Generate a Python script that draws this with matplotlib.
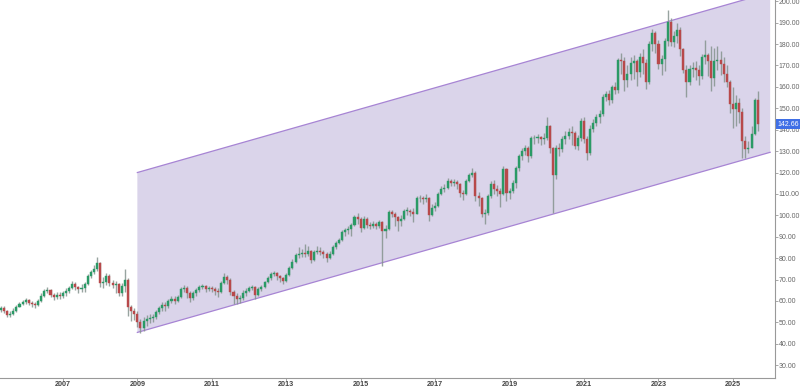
import matplotlib
matplotlib.use("Agg")
import matplotlib.pyplot as plt
from matplotlib.patches import Polygon, Rectangle
import numpy as np

plt.rcParams['font.family'] = ['Liberation Sans', 'DejaVu Sans']

# Monthly candles, first = May 2005
start_year = 2005
start_month = 5
first_open = 56.0

closes = [
    56.5, 55.5, 53.5, 54.0, 55.5, 57.0, 58.5, 59.5,                               # 2005
    60.5, 59.0, 58.5, 58.0, 60.0, 62.5, 64.5, 65.0, 63.0, 62.0, 63.0, 62.5,       # 2006
    63.5, 64.5, 66.0, 68.0, 66.5, 65.5, 66.0, 68.0, 71.5, 73.5, 75.0, 77.5,       # 2007
    68.5, 69.0, 71.5, 68.5, 67.5, 68.0, 63.5, 67.0, 70.0, 57.0, 55.5, 54.0,       # 2008
    50.0, 47.5, 50.5, 51.5, 52.0, 52.5, 55.0, 56.5, 58.0, 57.5, 60.0, 61.0,       # 2009
    60.0, 62.0, 65.5, 66.0, 63.5, 61.5, 63.5, 65.0, 66.5, 67.0, 65.5, 66.0,       # 2010
    65.5, 64.5, 64.0, 68.5, 71.0, 70.0, 64.0, 62.5, 61.0, 61.5, 63.5, 64.5,       # 2011
    66.0, 66.5, 63.0, 65.5, 66.5, 69.0, 70.5, 72.5, 73.0, 71.5, 70.5, 69.5,       # 2012
    72.0, 75.5, 78.0, 81.5, 82.0, 82.5, 82.0, 83.5, 79.0, 83.0, 83.5, 83.0,       # 2013
    82.0, 80.0, 82.0, 85.0, 87.0, 88.5, 92.0, 93.0, 93.5, 95.5, 99.0, 98.5,       # 2014
    94.0, 98.5, 95.5, 95.0, 96.0, 95.0, 97.0, 92.5, 93.5, 101.5, 100.5, 99.0,     # 2015
    97.5, 98.5, 102.0, 102.0, 101.5, 100.5, 108.0, 108.0, 107.5, 108.0, 100.0, 103.5,  # 2016
    104.5, 110.0, 112.5, 113.0, 116.0, 115.0, 115.5, 114.5, 110.5, 110.0, 116.0, 119.0,  # 2017
    120.0, 109.0, 108.0, 100.5, 101.0, 109.0, 114.5, 112.5, 111.5, 110.0, 121.5, 110.5,  # 2018
    111.5, 115.0, 122.0, 127.5, 130.0, 131.5, 127.5, 136.0, 136.0, 136.5, 135.5, 136.0,  # 2019
    141.5, 131.5, 119.0, 131.5, 131.0, 135.5, 137.0, 139.0, 138.5, 132.5, 136.0, 144.0,  # 2020
    135.5, 129.0, 140.5, 143.0, 146.0, 147.5, 155.5, 156.5, 154.0, 160.0, 158.5, 172.5,  # 2021
    172.0, 163.0, 166.0, 171.0, 172.0, 167.0, 174.0, 171.0, 162.5, 180.0, 185.0, 180.0,  # 2022
    170.5, 173.0, 181.5, 190.5, 181.0, 184.0, 186.5, 177.5, 168.0, 162.5, 168.5, 169.0,  # 2023
    168.0, 165.0, 174.0, 175.0, 172.0, 164.0, 172.0, 172.5, 170.5, 166.0, 162.5, 152.0,  # 2024
    149.5, 152.5, 148.5, 134.5, 131.0, 131.5, 138.0, 154.0, 142.66,                    # 2025
]

highs = [
    57.5, 57.5, 56.0, 55.5, 56.5, 58.0, 59.5, 60.5,
    61.5, 61.0, 60.0, 59.5, 61.0, 63.5, 65.5, 66.5, 65.5, 63.5, 64.0, 64.0,
    64.5, 66.0, 67.0, 69.5, 69.0, 67.0, 68.0, 69.0, 72.5, 74.5, 77.0, 80.5,
    78.0, 71.0, 73.0, 72.5, 70.0, 69.5, 68.5, 68.5, 75.0, 70.5, 58.0, 56.5,
    55.5, 51.5, 52.5, 53.5, 54.0, 54.0, 56.0, 57.5, 59.5, 59.5, 61.0, 62.5,
    62.5, 63.0, 66.5, 67.5, 67.0, 64.5, 64.5, 66.0, 67.5, 68.0, 67.5, 67.0,
    67.0, 66.5, 66.0, 69.5, 73.0, 72.0, 70.5, 65.0, 63.5, 63.0, 65.0, 66.0,
    67.0, 67.5, 67.0, 66.5, 67.5, 69.5, 71.5, 73.5, 74.0, 73.5, 72.0, 71.0,
    73.0, 76.5, 79.5, 82.5, 85.0, 84.5, 86.5, 85.5, 84.0, 84.0, 85.5, 85.0,
    84.0, 83.0, 83.5, 86.0, 88.0, 89.5, 93.0, 94.0, 95.0, 96.5, 100.0, 101.0,
    99.0, 99.5, 99.0, 97.0, 97.5, 97.0, 98.0, 97.5, 95.5, 102.5, 102.5, 101.5,
    99.5, 100.0, 103.0, 104.0, 103.0, 103.5, 109.0, 109.5, 109.0, 110.0, 108.5, 105.5,
    106.0, 111.0, 113.5, 114.5, 117.5, 117.0, 117.0, 116.5, 115.0, 112.0, 117.0, 120.0,
    122.0, 120.5, 111.0, 108.5, 103.0, 110.0, 116.0, 116.5, 114.0, 113.0, 123.0, 122.0,
    113.0, 116.5, 123.0, 128.5, 131.5, 133.0, 132.5, 137.0, 137.5, 138.0, 137.0, 138.5,
    146.0, 142.0, 132.0, 133.0, 134.0, 137.0, 139.5, 141.0, 141.5, 139.5, 137.5, 145.5,
    146.0, 137.0, 142.0, 145.0, 147.5, 149.0, 156.5, 158.0, 158.5, 161.0, 162.5, 173.5,
    176.0, 174.0, 170.0, 174.0, 175.0, 173.0, 176.0, 177.5, 173.0, 181.5, 187.0, 186.0,
    182.0, 175.0, 183.0, 196.0, 192.0, 186.0, 190.0, 188.0, 178.0, 170.0, 170.0, 171.5,
    172.0, 170.0, 175.5, 182.0, 176.0, 179.0, 178.0, 179.0, 177.0, 174.0, 170.0, 163.0,
    160.0, 156.0, 155.0, 150.0, 137.0, 134.5, 141.5, 155.0, 158.0,
]

lows = [
    55.0, 54.5, 52.5, 52.5, 53.5, 55.0, 57.0, 58.0,
    58.5, 58.0, 57.0, 56.5, 57.5, 59.5, 62.0, 63.5, 62.0, 60.5, 61.0, 61.0,
    61.5, 62.5, 63.5, 65.5, 65.0, 63.5, 64.0, 64.0, 67.5, 70.5, 72.5, 74.0,
    66.5, 66.0, 67.5, 67.0, 66.0, 63.5, 62.5, 62.5, 64.0, 53.0, 50.5, 51.0,
    48.0, 45.0, 46.0, 48.5, 49.5, 50.0, 51.5, 54.0, 55.5, 55.5, 56.5, 59.0,
    58.5, 59.5, 61.5, 64.0, 61.5, 59.5, 60.5, 62.5, 64.0, 65.5, 64.0, 64.5,
    64.0, 63.0, 62.0, 63.5, 68.0, 68.0, 63.0, 58.5, 58.5, 59.0, 60.5, 62.5,
    64.0, 65.0, 61.0, 62.5, 64.5, 66.0, 68.5, 70.0, 71.5, 70.0, 69.0, 68.0,
    69.0, 71.5, 75.0, 77.5, 80.0, 80.5, 80.5, 81.0, 77.5, 78.5, 82.0, 81.5,
    80.0, 78.0, 79.5, 81.5, 84.5, 86.5, 88.0, 90.5, 91.5, 90.5, 95.0, 96.0,
    92.0, 93.5, 94.0, 93.5, 94.0, 93.5, 94.0, 76.5, 89.5, 93.0, 99.0, 95.0,
    92.5, 95.0, 98.0, 100.0, 99.5, 97.0, 100.5, 106.0, 105.5, 106.0, 97.5, 99.5,
    102.0, 104.0, 109.5, 111.0, 112.5, 113.5, 113.5, 112.5, 108.5, 107.0, 109.5, 115.5,
    118.0, 106.5, 104.5, 99.0, 96.0, 100.0, 108.0, 110.0, 109.0, 104.0, 109.5, 106.5,
    107.5, 110.5, 113.0, 120.5, 126.0, 128.0, 125.0, 127.0, 133.5, 134.0, 133.0, 133.5,
    135.0, 129.0, 101.0, 117.0, 127.5, 129.5, 133.5, 135.5, 133.0, 131.0, 130.5, 134.5,
    134.0, 126.0, 128.0, 139.0, 141.5, 143.0, 146.5, 153.5, 151.5, 152.5, 156.5, 157.0,
    166.0, 158.0, 160.0, 163.0, 163.5, 160.5, 164.5, 166.0, 159.0, 161.5, 177.0, 176.0,
    168.5, 165.5, 167.5, 179.0, 179.0, 178.5, 180.5, 174.5, 166.5, 155.5, 161.0, 164.5,
    163.0, 161.0, 163.5, 170.5, 165.0, 158.0, 160.5, 168.0, 165.5, 162.5, 160.0, 148.0,
    141.0, 141.5, 143.0, 127.0, 127.0, 129.0, 131.5, 137.5, 139.5,
]

# Channel (start year, lower & upper values at start, end year, yearly slope)
channel_start = 2009.0
channel_end = 2026.0
channel_lower0 = 45.3
channel_upper0 = 120.0
channel_slope = 4.95

last_price = 142.66
yticks = list(range(30, 201, 10))
xticks = [2007, 2009, 2011, 2013, 2015, 2017, 2019, 2021, 2023, 2025]

fig = plt.figure(figsize=(8.0, 3.89), dpi=100)
ax = fig.add_axes([0.0, 11/389, 775/800, 378/389])

# channel
yl = channel_lower0
yu = channel_upper0
yl2 = yl + channel_slope * (channel_end - channel_start)
yu2 = yu + channel_slope * (channel_end - channel_start)
poly = Polygon([(channel_start, yl), (channel_start, yu), (channel_end, yu2), (channel_end, yl2)],
               closed=True, facecolor='#dad4ea', edgecolor='none', zorder=1)
ax.add_patch(poly)
ax.plot([channel_start, channel_end], [yu, yu2], color='#a784d4', lw=0.9, zorder=2)
ax.plot([channel_start, channel_end], [yl, yl2], color='#a784d4', lw=0.9, zorder=2)

n = len(closes)
xs = np.array([start_year + (start_month - 1 + i) / 12.0 for i in range(n)])
opens = [first_open] + closes[:-1]
green = '#2a9a66'
red = '#b8494b'
wick = '#86948f'
bw = 0.055
for x, o, h, l, c in zip(xs, opens, highs, lows, closes):
    ax.vlines(x, l, h, color=wick, lw=1.0, alpha=0.85, zorder=3)
    col = green if c >= o else red
    bot = min(o, c)
    hgt = max(abs(c - o), 0.3)
    ax.add_patch(Rectangle((x - bw / 2, bot), bw, hgt, facecolor=col, edgecolor=col, lw=0.3, zorder=4))

ax.set_xlim(2005.31, 2026.13)
ax.set_ylim(24.0, 200.6)

ax.yaxis.tick_right()
ax.set_yticks(yticks)
ax.set_yticklabels([f"{v:.2f}" for v in yticks])
ax.set_xticks(xticks)
ax.set_xticklabels([str(v) for v in xticks])
ax.tick_params(axis='y', which='both', right=True, left=False, length=2.0, width=0.6,
               color='#999999', labelsize=5.0, labelcolor='#666666', pad=0.8)
ax.tick_params(axis='x', length=2, width=0.6, color='#999999', labelsize=5.2,
               labelcolor='#444444', pad=0.3)
for lab in ax.get_xticklabels():
    lab.set_fontweight('bold')

for s in ['top', 'left']:
    ax.spines[s].set_visible(False)
for s in ['right', 'bottom']:
    ax.spines[s].set_color('#999999')
    ax.spines[s].set_linewidth(0.8)

ax.annotate(f"{last_price:.2f}", xy=(1.0, last_price), xycoords=('axes fraction', 'data'),
            xytext=(2.0, 0), textcoords='offset points', ha='left', va='center',
            fontsize=5.0, color='white',
            bbox=dict(boxstyle='square,pad=0.25', facecolor='#3f6fe6', edgecolor='none'),
            annotation_clip=False, zorder=10)

fig.savefig('out.png', dpi=100)
